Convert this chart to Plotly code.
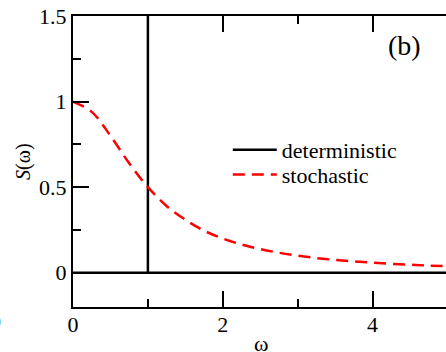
import plotly.graph_objects as go

# deterministic spectrum: delta peak at omega = 1 on a zero baseline
det_omega = [0, 1, 1, 1, 5]
det_S = [0, 0, 1.5, 0, 0]

# stochastic spectrum
sto_omega = [0, 0.25, 0.5, 0.75, 1.0, 1.25, 1.5, 1.75, 2.0, 2.25, 2.5, 2.75, 3.0,
             3.25, 3.5, 3.75, 4.0, 4.25, 4.5, 4.75, 5.0]
sto_S = [1.0, 0.94, 0.80, 0.64, 0.50, 0.39, 0.31, 0.246, 0.20, 0.165, 0.138,
         0.117, 0.10, 0.086, 0.075, 0.066, 0.059, 0.052, 0.047, 0.042, 0.038]

x_ticks = [0, 2, 4]
y_ticks = [0, 0.5, 1, 1.5]
y_ticktext = ["0", "0.5", "1", "1.5"]

FONT = "'Liberation Serif', 'Times New Roman', Times, serif"

fig = go.Figure()
fig.add_trace(go.Scatter(x=det_omega, y=det_S, mode="lines", name="deterministic",
                         legend="legend",
                         line=dict(color="black", width=2.5)))
fig.add_trace(go.Scatter(x=sto_omega, y=sto_S, mode="lines", name="stochastic",
                         legend="legend2",
                         line=dict(color="red", width=2.5, dash="12px,7px", shape="spline")))

leg_common = dict(xanchor="left", yanchor="middle", bgcolor="rgba(0,0,0,0)",
                  font=dict(family=FONT, size=22), itemwidth=44)

fig.update_layout(
    width=446, height=352,
    margin=dict(l=73, r=0, t=16, b=45),
    paper_bgcolor="white", plot_bgcolor="white",
    font=dict(family=FONT, color="black", size=22),
    showlegend=True,
    legend=dict(x=0.415, y=0.540, **leg_common),
    legend2=dict(x=0.415, y=0.455, **leg_common),
    xaxis=dict(range=[0, 4.98], tickvals=x_ticks, ticks="inside", ticklen=16, tickwidth=1.5,
               tickcolor="black", showline=True, linecolor="black", linewidth=2,
               mirror="ticks", showgrid=False, zeroline=False, ticklabelstandoff=-3,
               minor=dict(tickvals=[1, 3, 5], ticks="inside", ticklen=8, tickwidth=1.5, tickcolor="black"),
               tickfont=dict(family=FONT, size=22)),
    yaxis=dict(range=[-0.2, 1.5], tickvals=y_ticks, ticktext=y_ticktext,
               ticks="inside", ticklen=16, tickwidth=1.5, tickcolor="black",
               showline=True, linecolor="black", linewidth=2, mirror=False,
               showgrid=False, zeroline=False,
               minor=dict(tickvals=[0.25, 0.75, 1.25], ticks="inside", ticklen=8, tickwidth=1.5, tickcolor="black"),
               tickfont=dict(family=FONT, size=22)),
    yaxis2=dict(range=[-0.2, 1.5], overlaying="y", side="right", tickvals=y_ticks,
                showticklabels=False, ticks="inside", ticklen=16, tickwidth=1.5, tickcolor="black",
                showline=False, showgrid=False, zeroline=False,
                minor=dict(tickvals=[0.25, 0.75, 1.25], ticks="inside", ticklen=8, tickwidth=1.5, tickcolor="black")),
)

fig.add_annotation(text="ω", xref="paper", yref="paper", x=0.504, y=-0.125,
                   xanchor="center", yanchor="middle", showarrow=False,
                   font=dict(family=FONT, size=22))
fig.add_annotation(text="<i>S</i>(ω)", xref="paper", yref="paper", x=-0.133, y=0.5,
                   xanchor="center", yanchor="middle", showarrow=False, textangle=-90,
                   font=dict(family=FONT, size=20))
fig.add_annotation(text="(b)", xref="paper", yref="paper", x=0.89, y=0.8985,
                   xanchor="center", yanchor="middle", showarrow=False,
                   font=dict(family=FONT, size=28))
fig.add_annotation(text="0", xref="paper", yref="paper", x=-0.1877, y=-0.051,
                   xanchor="right", yanchor="middle", showarrow=False,
                   font=dict(family=FONT, size=22))

fig.write_html("out.html", config={"displayModeBar": False},
               post_script="document.body.style.margin='0';document.body.style.overflow='hidden';")
